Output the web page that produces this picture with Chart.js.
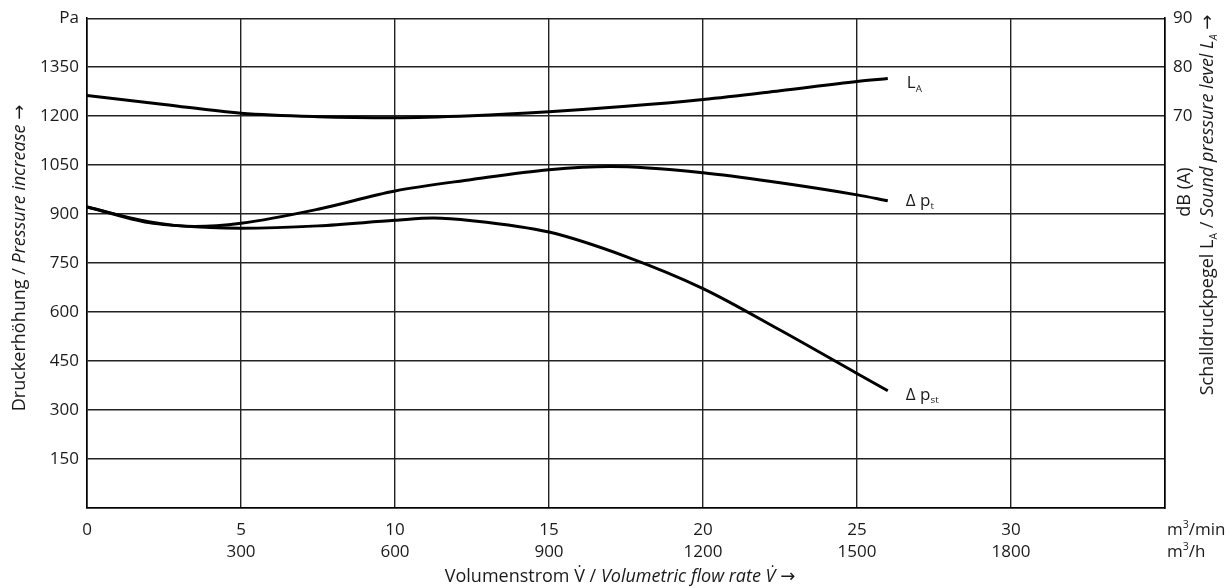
<!DOCTYPE html>
<html>
<head>
<meta charset="utf-8">
<script src="https://cdn.jsdelivr.net/npm/chart.js@4.4.1/dist/chart.umd.min.js"></script>
<style>
    html, body { margin: 0; padding: 0; background: #fff; }
    #wrap { width: 1226px; height: 588px; }
</style>
</head>
<body>
<div id="wrap"><canvas id="fanChart" width="1226" height="588"></canvas></div>
<script>
// Volumetric flow rate (m³/min) and curve values
const laFlow = [0, 2.5, 5, 7.5, 10, 12.5, 15, 17.5, 20, 22.5, 25, 26];
const laDb = [74.2, 72.4, 70.6, 69.9, 69.7, 70.1, 70.9, 72.0, 73.4, 75.2, 77.1, 77.7];

const ptFlow = [0, 2, 3.5, 5, 7.5, 10, 12.5, 15, 17, 20, 22.5, 25, 26];
const ptPa = [922, 877, 862, 872, 915, 971, 1006, 1036, 1046, 1027, 996, 959, 941];

const pstFlow = [0, 2, 4, 5, 7.5, 10, 11.25, 12.5, 15, 17.5, 20, 22.5, 25, 26];
const pstPa = [922, 874, 859, 857, 864, 881, 888, 880, 845, 770, 672, 545, 412, 359];

// tick labels
const flowTicks = [0, 5, 10, 15, 20, 25, 30];
const flowHourTicks = ['', '300', '600', '900', '1200', '1500', '1800'];
const dbTicks = [70, 80, 90];

const FONT = '"Open Sans", "DejaVu Sans", sans-serif';
const INK = '#1a1a1a';

function toPoints(xs, ys) {
    return xs.map((x, i) => ({ x: x, y: ys[i] }));
}

// text made of parts {t, italic, sub, sup}
function partSize(p, size) {
    if (p.sub) return size * 0.58;
    if (p.sup) return size * 0.62;
    return size;
}

function richWidth(ctx, parts, size) {
    let w = 0;
    parts.forEach(p => {
        ctx.font = (p.italic ? 'italic ' : '') + partSize(p, size) + 'px ' + FONT;
        w += ctx.measureText(p.t).width;
    });
    return w;
}

function drawRich(ctx, parts, x, y, size, align) {
    let cx = x;
    if (align === 'center') cx = x - richWidth(ctx, parts, size) / 2;
    ctx.textBaseline = 'middle';
    ctx.textAlign = 'left';
    parts.forEach(p => {
        ctx.font = (p.italic ? 'italic ' : '') + partSize(p, size) + 'px ' + FONT;
        let dy = 0;
        if (p.sub) dy = size * 0.33;
        if (p.sup) dy = -size * 0.32;
        ctx.fillText(p.t, cx, y + dy);
        cx += ctx.measureText(p.t).width;
    });
}

function drawRotated(ctx, parts, x, y, size) {
    ctx.save();
    ctx.translate(x, y);
    ctx.rotate(-Math.PI / 2);
    drawRich(ctx, parts, 0, 0, size, 'center');
    ctx.restore();
}

const labelsPlugin = {
    id: 'fanLabels',
    afterDraw(chart) {
        const ctx = chart.ctx;
        const xs = chart.scales.x;
        const ys = chart.scales.y;
        const y2 = chart.scales.y2;
        ctx.save();
        ctx.fillStyle = INK;

        // flow rate units at the right end of the x axis
        const unitX = xs.right + 2;
        drawRich(ctx, [{ t: 'm' }, { t: '3', sup: true }, { t: '/min' }], unitX, 530, 17);
        drawRich(ctx, [{ t: 'm' }, { t: '3', sup: true }, { t: '/h' }], unitX, 552, 17);

        // axis titles
        drawRich(ctx, [
            { t: 'Volumenstrom V\u0307 / ' },
            { t: 'Volumetric flow rate V\u0307', italic: true },
            { t: ' \u2192' }
        ], 620, 577, 18, 'center');

        drawRotated(ctx, [
            { t: 'Druckerh\u00f6hung / ' },
            { t: 'Pressure increase', italic: true },
            { t: ' \u2192' }
        ], 20, 258, 18);

        drawRotated(ctx, [{ t: 'dB (A)' }], 1185, 192, 18);
        drawRotated(ctx, [
            { t: 'Schalldruckpegel L' }, { t: 'A', sub: true },
            { t: ' / ' },
            { t: 'Sound pressure level L', italic: true }, { t: 'A', sub: true, italic: true },
            { t: ' \u2192' }
        ], 1208, 205, 18);

        // curve names
        const lastLa = laFlow.length - 1;
        drawRich(ctx, [{ t: 'L' }, { t: 'A', sub: true }],
            xs.getPixelForValue(laFlow[lastLa]) + 19, y2.getPixelForValue(laDb[lastLa]) + 5, 17);
        const lastPt = ptFlow.length - 1;
        drawRich(ctx, [{ t: '\u0394 p' }, { t: 't', sub: true }],
            xs.getPixelForValue(ptFlow[lastPt]) + 18, ys.getPixelForValue(ptPa[lastPt]) + 0, 17);
        const lastPst = pstFlow.length - 1;
        drawRich(ctx, [{ t: '\u0394 p' }, { t: 'st', sub: true }],
            xs.getPixelForValue(pstFlow[lastPst]) + 18, ys.getPixelForValue(pstPa[lastPst]) + 4, 17);

        ctx.restore();
    }
};

const curveStyle = {
    borderColor: '#000',
    borderWidth: 3,
    pointRadius: 0,
    fill: false,
    cubicInterpolationMode: 'monotone'
};

new Chart(document.getElementById('fanChart'), {
    type: 'line',
    data: {
        datasets: [
            Object.assign({ label: 'L_A', data: toPoints(laFlow, laDb), yAxisID: 'y2' }, curveStyle),
            Object.assign({ label: 'dp_t', data: toPoints(ptFlow, ptPa), yAxisID: 'y' }, curveStyle),
            Object.assign({ label: 'dp_st', data: toPoints(pstFlow, pstPa), yAxisID: 'y' }, curveStyle)
        ]
    },
    options: {
        responsive: false,
        animation: false,
        layout: { padding: { top: 17, left: 0, right: 0, bottom: 0 } },
        plugins: {
            legend: { display: false },
            tooltip: { enabled: false }
        },
        scales: {
            x: {
                type: 'linear',
                min: 0,
                max: 35,
                afterBuildTicks: (s) => { s.ticks = flowTicks.map(v => ({ value: v })).concat([{ value: 35 }]); },
                afterFit: (s) => { s.height = 80; },
                ticks: {
                    color: INK,
                    padding: 11,
                    maxRotation: 0,
                    autoSkip: false,
                    font: { family: FONT, size: 17, lineHeight: 1.3 },
                    callback: (v) => {
                        const i = flowTicks.indexOf(v);
                        if (i < 0) return '';
                        return flowHourTicks[i] ? [String(v), flowHourTicks[i]] : String(v);
                    }
                },
                grid: { color: '#222', lineWidth: 1.4, drawTicks: false },
                border: { color: '#000', width: 1.6 }
            },
            y: {
                position: 'left',
                min: 0,
                max: 1500,
                afterFit: (s) => { s.width = 87; },
                ticks: {
                    stepSize: 150,
                    color: INK,
                    padding: 8,
                    font: { family: FONT, size: 17 },
                    callback: (v) => v === 0 ? '' : (v === 1500 ? 'Pa' : String(v))
                },
                grid: { color: '#222', lineWidth: 1.4, drawTicks: false },
                border: { color: '#000', width: 1.6 }
            },
            y2: {
                position: 'right',
                min: -10,
                max: 90,
                afterFit: (s) => { s.width = 1226 - 1165; },
                ticks: {
                    stepSize: 10,
                    color: INK,
                    padding: 8,
                    font: { family: FONT, size: 17 },
                    callback: (v) => dbTicks.indexOf(v) >= 0 ? String(v) : ''
                },
                grid: { drawOnChartArea: false, drawTicks: false },
                border: { color: '#000', width: 1.6 }
            }
        }
    },
    plugins: [labelsPlugin]
});
</script>
</body>
</html>
